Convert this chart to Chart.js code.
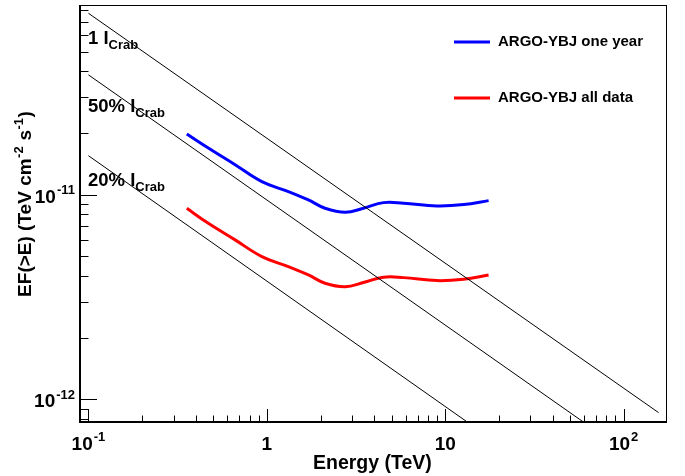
<!DOCTYPE html>
<html>
<head>
<meta charset="utf-8">
<script src="https://cdn.jsdelivr.net/npm/chart.js@4.4.1/dist/chart.umd.min.js"></script>
<style>
  html, body { margin: 0; padding: 0; background: #fff; }
  canvas { display: block; }
</style>
</head>
<body>
<canvas id="sens" width="685" height="476"></canvas>
<script>
const energies = [0.356, 0.470, 0.664, 0.938, 1.32, 1.71, 2.12, 2.75, 3.48, 4.51, 5.84, 8.98, 12.7, 17.5];
const oneYear = [1.98e-11, 1.69e-11, 1.40e-11, 1.157e-11, 1.035e-11, 9.42e-12, 8.58e-12, 8.20e-12, 8.58e-12, 9.14e-12, 9.08e-12, 8.81e-12, 8.94e-12, 9.35e-12];
const allData = [8.57e-12, 7.24e-12, 6.01e-12, 4.98e-12, 4.45e-12, 4.05e-12, 3.69e-12, 3.55e-12, 3.72e-12, 3.95e-12, 3.93e-12, 3.80e-12, 3.86e-12, 4.05e-12];

// Crab reference lines (visible end points)
const crab100E = [0.1, 157];
const crab100F = [7.7e-11, 8.6e-13];
const crab50E = [0.1, 60];
const crab50F = [3.85e-11, 7.7e-13];
const crab20E = [0.1, 13.4];
const crab20F = [1.55e-11, 7.7e-13];

const seriesNames = ['ARGO-YBJ one year', 'ARGO-YBJ all data'];
const seriesColors = ['#0000ff', '#ff0000'];
const crabLabels = [['1 I', 'Crab'], ['50% I', 'Crab'], ['20% I', 'Crab']];

const xMin = 0.0897, xMax = 175;
const yMin = 7.74e-13, yMax = 8.45e-11;
const xMajor = [0.1, 1, 10, 100];
const xMajorExp = ['-1', '', '', '2'];
const yMajor = [1e-12, 1e-11];
const yMajorExp = ['-12', '-11'];

const FONT = '"Liberation Sans", Arial, Helvetica, sans-serif';

function pts(xs, ys) {
    return xs.map((x, i) => ({ x: x, y: ys[i] }));
}

function crabSet(xs, ys) {
    return {
        data: pts(xs, ys),
        borderColor: '#000',
        borderWidth: 1,
        pointRadius: 0,
        showLine: true,
        tension: 0
    };
}

function powWidth(ctx, base, exp, size) {
    ctx.font = 'bold ' + size + 'px ' + FONT;
    let w = ctx.measureText(base).width;
    if (exp) {
        ctx.font = 'bold ' + Math.round(size * 0.7) + 'px ' + FONT;
        w += ctx.measureText(exp).width + 1;
    }
    return w;
}

// base text with a raised exponent
function drawPow(ctx, base, exp, x, y, size) {
    ctx.textAlign = 'left';
    ctx.textBaseline = 'alphabetic';
    ctx.font = 'bold ' + size + 'px ' + FONT;
    ctx.fillText(base, x, y);
    const bw = ctx.measureText(base).width;
    if (exp) {
        ctx.font = 'bold ' + Math.round(size * 0.7) + 'px ' + FONT;
        ctx.fillText(exp, x + bw + 1, y - size * 0.45);
    }
}

function drawSub(ctx, base, sub, x, y, size) {
    ctx.textAlign = 'left';
    ctx.textBaseline = 'alphabetic';
    ctx.font = 'bold ' + size + 'px ' + FONT;
    ctx.fillText(base, x, y);
    const bw = ctx.measureText(base).width;
    ctx.font = 'bold ' + Math.round(size * 0.7) + 'px ' + FONT;
    ctx.fillText(sub, x + bw, y + size * 0.28);
}

const rootFrame = {
    id: 'rootFrame',
    afterDatasetsDraw(chart) {
        const ctx = chart.ctx;
        const a = chart.chartArea;
        const xs = chart.scales.x, ys = chart.scales.y;
        ctx.save();
        ctx.fillStyle = '#000';
        ctx.strokeStyle = '#000';

        // frame
        ctx.lineWidth = 1;
        ctx.strokeRect(a.left + 0.5, a.top + 0.5, a.right - a.left - 1, a.bottom - a.top - 1);
        ctx.lineWidth = 2;
        ctx.beginPath();
        ctx.moveTo(a.left, a.top);
        ctx.lineTo(a.left, a.bottom);
        ctx.lineTo(a.right, a.bottom);
        ctx.stroke();

        // x ticks
        ctx.lineWidth = 1;
        ctx.beginPath();
        for (let d = -2; d <= 2; d++) {
            for (let m = 1; m <= 9; m++) {
                const v = m * Math.pow(10, d);
                if (v < xMin || v > xMax) continue;
                const px = Math.round(xs.getPixelForValue(v)) + 0.5;
                const len = m === 1 ? 13 : 6.5;
                ctx.moveTo(px, a.bottom);
                ctx.lineTo(px, a.bottom - len);
            }
        }
        // y ticks
        for (let d = -13; d <= -10; d++) {
            for (let m = 1; m <= 9; m++) {
                const v = m * Math.pow(10, d);
                if (v < yMin || v > yMax) continue;
                const py = Math.round(ys.getPixelForValue(v)) + 0.5;
                const len = m === 1 ? 17 : 8.5;
                ctx.moveTo(a.left, py);
                ctx.lineTo(a.left + len, py);
            }
        }
        ctx.stroke();

        // x tick labels
        xMajor.forEach((v, i) => {
            const base = xMajorExp[i] ? '10' : String(v);
            const w = powWidth(ctx, base, xMajorExp[i], 19);
            const px = xs.getPixelForValue(v);
            drawPow(ctx, base, xMajorExp[i], px - w / 2, 450, 19);
        });
        // y tick labels
        yMajor.forEach((v, i) => {
            const w = powWidth(ctx, '10', yMajorExp[i], 19);
            const py = ys.getPixelForValue(v);
            drawPow(ctx, '10', yMajorExp[i], a.left - 5 - w, py + 8, 19);
        });

        // axis titles
        ctx.font = 'bold 19.5px ' + FONT;
        ctx.textAlign = 'left';
        ctx.fillText('Energy (TeV)', 313, 469);

        ctx.save();
        ctx.translate(31, 204);
        ctx.rotate(-Math.PI / 2);
        const parts = [['EF(>E) (TeV cm', ''], ['', '-2'], [' s', ''], ['', '-1'], [')', '']];
        let tw = 0;
        parts.forEach(p => {
            if (p[0]) { ctx.font = 'bold 19px ' + FONT; tw += ctx.measureText(p[0]).width; }
            else { ctx.font = 'bold 13px ' + FONT; tw += ctx.measureText(p[1]).width + 1; }
        });
        let cx = -tw / 2;
        parts.forEach(p => {
            if (p[0]) {
                ctx.font = 'bold 19px ' + FONT;
                ctx.fillText(p[0], cx, 0);
                cx += ctx.measureText(p[0]).width;
            } else {
                ctx.font = 'bold 13px ' + FONT;
                ctx.fillText(p[1], cx + 0.5, -8.5);
                cx += ctx.measureText(p[1]).width + 1;
            }
        });
        ctx.restore();

        // Crab line labels
        const labelY = [44, 112, 186];
        crabLabels.forEach((l, i) => drawSub(ctx, l[0], l[1], 88, labelY[i], 18.5));

        // legend
        const legY = [42, 98];
        seriesNames.forEach((name, i) => {
            ctx.strokeStyle = seriesColors[i];
            ctx.lineWidth = 3;
            ctx.beginPath();
            ctx.moveTo(454, legY[i]);
            ctx.lineTo(490, legY[i]);
            ctx.stroke();
            ctx.fillStyle = '#000';
            ctx.font = 'bold 15px ' + FONT;
            ctx.textBaseline = 'middle';
            ctx.fillText(name, 498, legY[i]);
        });
        ctx.restore();
    }
};

new Chart(document.getElementById('sens'), {
    type: 'scatter',
    data: {
        datasets: [
            crabSet(crab100E, crab100F),
            crabSet(crab50E, crab50F),
            crabSet(crab20E, crab20F),
            {
                label: seriesNames[0],
                data: pts(energies, oneYear),
                borderColor: seriesColors[0],
                borderWidth: 3,
                pointRadius: 0,
                showLine: true,
                tension: 0.4
            },
            {
                label: seriesNames[1],
                data: pts(energies, allData),
                borderColor: seriesColors[1],
                borderWidth: 3,
                pointRadius: 0,
                showLine: true,
                tension: 0.4
            }
        ]
    },
    options: {
        responsive: false,
        animation: false,
        devicePixelRatio: 1,
        layout: { padding: { left: 80, top: 5, right: 18, bottom: 54 } },
        plugins: { legend: { display: false }, tooltip: { enabled: false } },
        scales: {
            x: { type: 'logarithmic', min: xMin, max: xMax, display: false },
            y: { type: 'logarithmic', min: yMin, max: yMax, display: false }
        }
    },
    plugins: [rootFrame]
});
</script>
</body>
</html>
